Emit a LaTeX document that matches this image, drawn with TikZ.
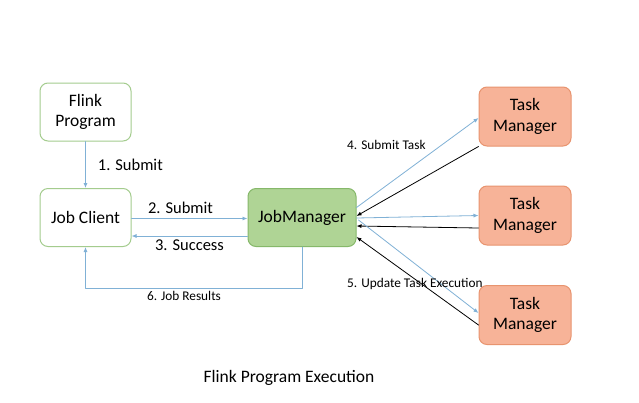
\documentclass[tikz,border=0pt]{standalone}
\usepackage{fontspec}
\setmainfont{Carlito}
\usetikzlibrary{arrows.meta}
\definecolor{boxgreen}{HTML}{A4CC8E}
\definecolor{jmfill}{HTML}{AFD495}
\definecolor{jmline}{HTML}{86B86A}
\definecolor{tmfill}{HTML}{F7B398}
\definecolor{tmline}{HTML}{E8946F}
\definecolor{arrblue}{HTML}{80B1D6}
\begin{document}
\begin{tikzpicture}[x=1pt,y=-1pt,line join=round,line cap=round,font=\fontsize{16.5}{19}\selectfont,
	plain/.style={draw=boxgreen,line width=1pt,fill=white,rounded corners=8pt,minimum width=91pt,minimum height=58pt,align=center,inner sep=0pt,font=\fontsize{17.5}{20.5}\selectfont},
	jmbox/.style={draw=jmline,line width=1pt,fill=jmfill,rounded corners=8pt,minimum width=108pt,minimum height=58pt,inner sep=0pt,font=\fontsize{17.5}{20.5}\selectfont},
	tmbox/.style={draw=tmline,line width=1pt,fill=tmfill,rounded corners=8pt,minimum width=92pt,minimum height=59pt,align=center,inner sep=0pt,font=\fontsize{17.5}{20.5}\selectfont},
	blu/.style={draw=arrblue,line width=.8pt,-{Latex[length=5pt,width=4pt]}},
	blk/.style={draw=black,line width=.8pt,-{Latex[length=5pt,width=4pt]}},
	lbl/.style={inner sep=0pt,font=\fontsize{13.3}{15}\selectfont}]
	\useasboundingbox[fill=white] (0,0) rectangle (639,402);
	\node[plain] (prog) at (85.5,112) {Flink\\Program};
	\node[plain] (client) at (85.5,217.5) {Job Client};
	\node[jmbox] (jm) at (302,217.5) {JobManager};
	\node[tmbox] (tm1) at (525,116.5) {Task\\Manager};
	\node[tmbox] (tm2) at (525,215.5) {Task\\Manager};
	\node[tmbox] (tm3) at (525,315) {Task\\Manager};
	% client side
	\draw[blu] (prog) -- (client) node[pos=.5,right=12pt,inner sep=0pt]{1. Submit};
	\draw[blu] ([yshift=-1pt]client.east) -- ([yshift=-1pt]jm.west) node[pos=.5,above=4pt,inner sep=0pt,xshift=-9pt]{2. Submit};
	\draw[blu] ([yshift=-18.5pt]jm.west) -- ([yshift=-18.5pt]client.east) node[pos=.5,below=3pt,inner sep=0pt]{3. Success};
	\draw[blu] (jm.south) -- ++(0,41.5) coordinate (c6) -| (client.south);
	\node[lbl] (res) at (184,296) {6. Job Results};
	% task managers
	\draw[blu] ([yshift=10pt]jm.east) -- ([yshift=-1.5pt]tm1.west);
	\draw[blk] (tm1.south west) -- ([yshift=1.5pt]jm.east);
	\draw[blu] ([yshift=-.5pt]jm.east) -- (tm2.west);
	\draw[blk] ([yshift=-12.5pt]tm2.west) -- ([yshift=-8.5pt]jm.east);
	\draw[blu] ([xshift=2pt,yshift=-2.5pt]jm.east) -- ([yshift=2pt]tm3.west);
	\draw[blk] ([yshift=-10pt]tm3.west) -- ([yshift=-19.5pt]jm.east);
	\node[lbl,anchor=west] (sub) at (347,145) {4. Submit Task};
	\node[lbl,anchor=west] (upd) at (347,284) {5. Update Task Execution};
	\node[font=\fontsize{17.5}{20.5}\selectfont] (title) at (289,378) {Flink Program Execution};
\end{tikzpicture}
\end{document}
